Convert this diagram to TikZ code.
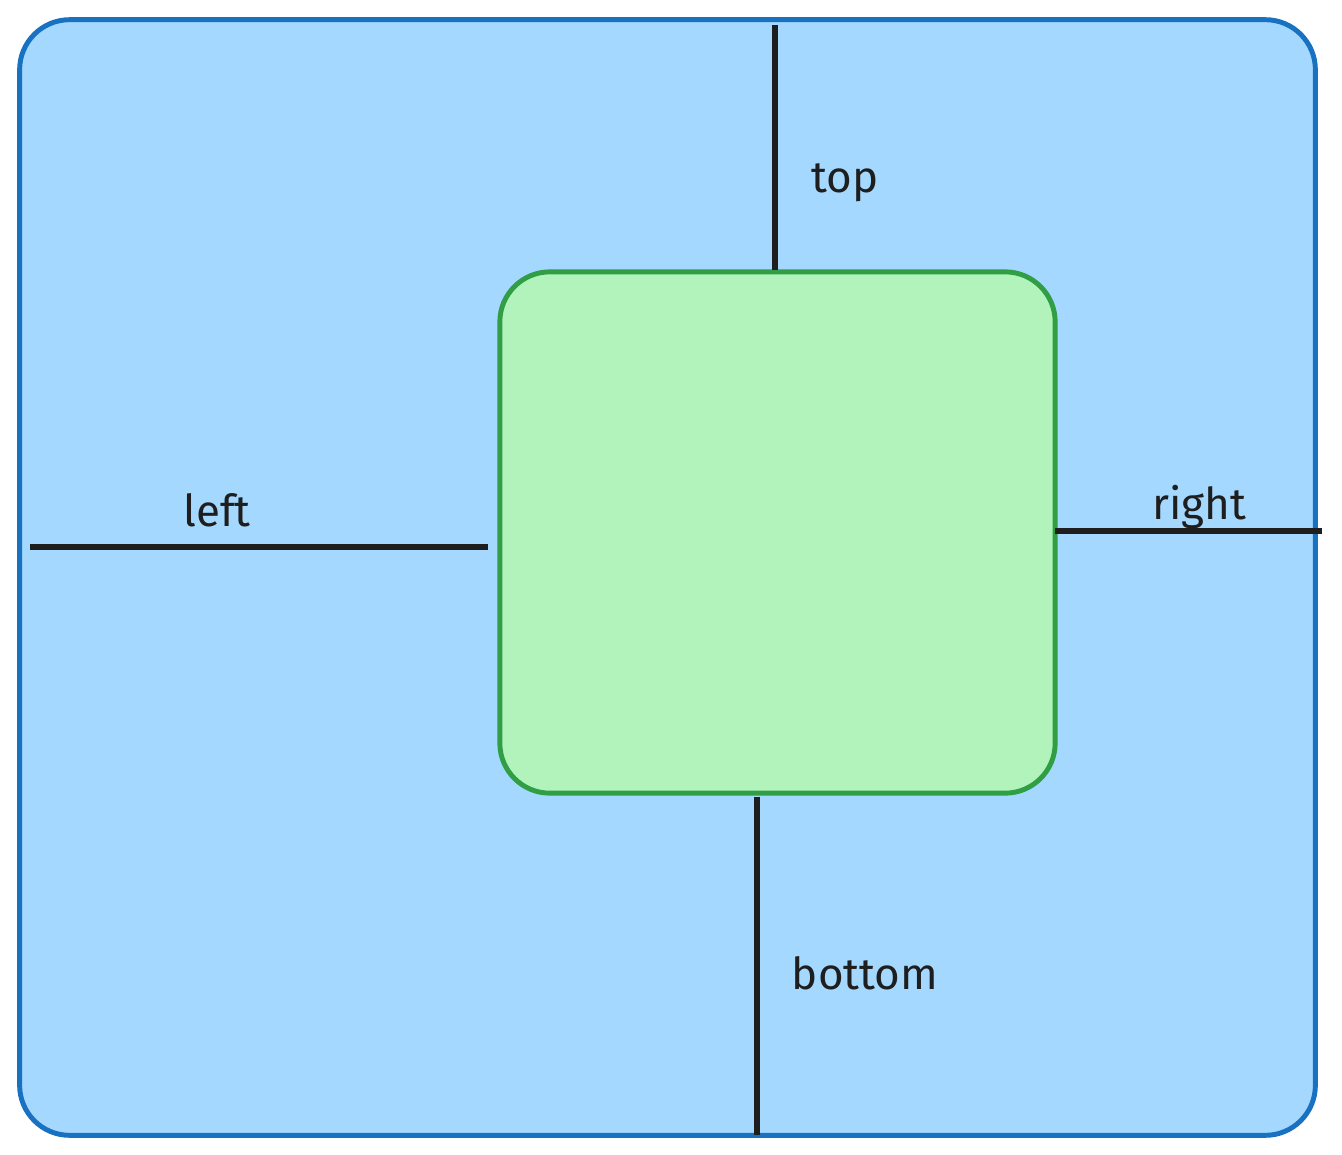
\documentclass[tikz,border=0pt]{standalone}
\usepackage{fontspec}
\setmainfont{Fira Sans}
\usetikzlibrary{positioning}
\definecolor{outerfill}{HTML}{A5D8FF}
\definecolor{outerdraw}{HTML}{1971C2}
\definecolor{innerfill}{HTML}{B2F2BB}
\definecolor{innerdraw}{HTML}{2F9E44}
\definecolor{ink}{HTML}{1E1E1E}
\tikzset{
    %Define style for the two boxes
    panel/.style={
           rectangle,
           rounded corners=0.5cm,
           line width=1.4pt,
           inner sep=0pt},
    % Define style for the edge lines
    rule/.style={
           draw=ink,
           line width=1.6pt},
    % Define style for labels
    tag/.style={
           text=ink,
           font=\fontsize{12.5}{15}\selectfont}
}
\begin{document}
\begin{tikzpicture}[x=0.01cm,y=-0.01cm]
  \useasboundingbox (0,0) rectangle (1342,1154);
  \node[panel,draw=outerdraw,fill=outerfill,minimum width=12.95cm,minimum height=11.15cm] (frame) at (667.5,577.5) {};
  \node[panel,draw=innerdraw,fill=innerfill,minimum width=5.55cm,minimum height=5.21cm] (box) at (777.5,532.5) {};
  % end points of the lines
  \coordinate (topA) at (775,25);
  \coordinate (topB) at (775,270);
  \coordinate (botA) at (757,797);
  \coordinate (botB) at (757,1135);
  \coordinate (leftA) at (30,547);
  \coordinate (leftB) at (488,547);
  \coordinate (rightA) at (1055,531);
  \coordinate (rightB) at (1322,531);
  \draw[rule] (topA) -- (topB);
  \draw[rule] (botA) -- (botB);
  \draw[rule] (leftA) -- (leftB);
  \draw[rule] (rightA) -- (rightB);
  \node[tag] (toplabel) at (845,183) {top};
  \node[tag] (leftlabel) at (217,510) {left};
  \node[tag] (rightlabel) at (1199,507) {right};
  \node[tag] (bottomlabel) at (865,973) {bottom};
\end{tikzpicture}
\end{document}
